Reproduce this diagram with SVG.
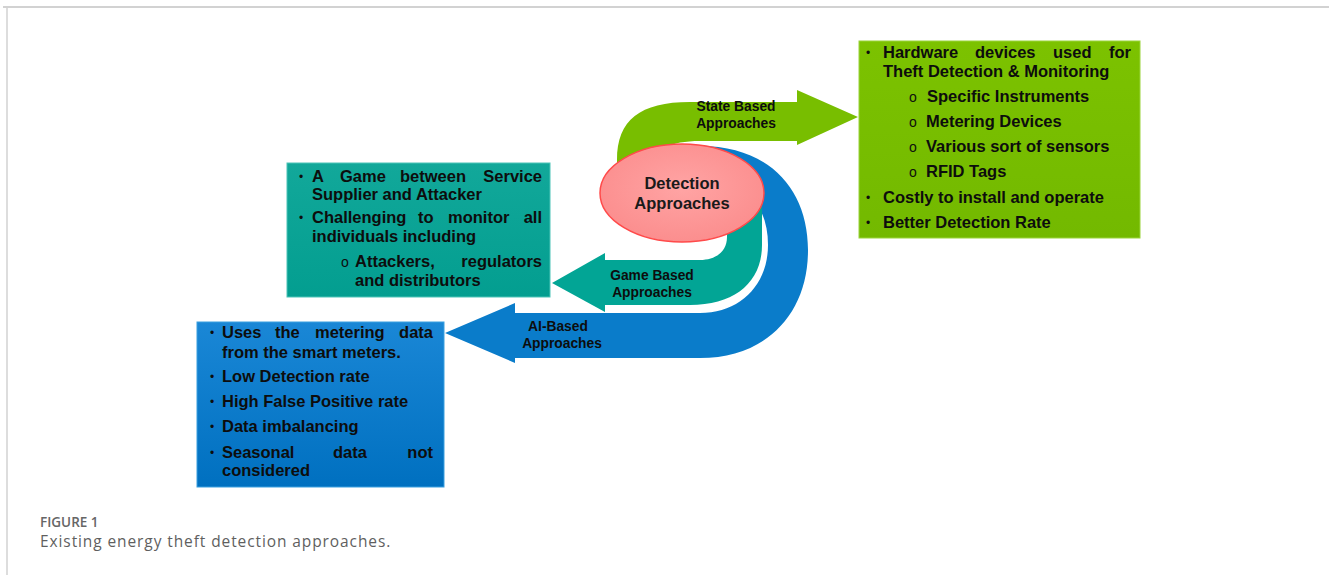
<svg xmlns="http://www.w3.org/2000/svg" width="1329" height="575" viewBox="0 0 1329 575">
  <style>
    .t { font-family: "Liberation Sans", Arial, sans-serif; font-weight: bold; font-size: 16.5px; fill: #0d0d0d; }
    .e { text-anchor: end; }
    .lbl { font-family: "Liberation Sans", Arial, sans-serif; font-weight: bold; font-size: 13.8px; fill: #0d0d0d; text-anchor: middle; }
    .ell { font-family: "Liberation Sans", Arial, sans-serif; font-weight: bold; font-size: 16.5px; fill: #1a1a1a; text-anchor: middle; }
    .b { font-family: "Liberation Sans", Arial, sans-serif; font-size: 12px; fill: #0d0d0d; }
    .o { font-family: "Liberation Sans", Arial, sans-serif; font-size: 14px; fill: #0d0d0d; }
    .frame { stroke: #d2d2d2; fill: none; }
  </style>
  <defs>
    <linearGradient id="gBlue" x1="0" y1="0" x2="0" y2="1">
      <stop offset="0" stop-color="#1a87d6"/>
      <stop offset="1" stop-color="#0070c0"/>
    </linearGradient>
    <linearGradient id="gTeal" x1="0" y1="0" x2="0" y2="1">
      <stop offset="0" stop-color="#12a89a"/>
      <stop offset="1" stop-color="#039e90"/>
    </linearGradient>
    <linearGradient id="gGreen" x1="0" y1="0" x2="0" y2="1">
      <stop offset="0" stop-color="#7cc200"/>
      <stop offset="1" stop-color="#73b900"/>
    </linearGradient>
    <radialGradient id="gEll" cx="0.5" cy="0.45" r="0.6">
      <stop offset="0" stop-color="#ffa4a4"/>
      <stop offset="1" stop-color="#fb8c8c"/>
    </radialGradient>
  </defs>

  <rect width="1329" height="575" fill="#ffffff"/>
  <line class="frame" x1="3" y1="7" x2="1329" y2="7" stroke-width="2"/>
  <line class="frame" x1="7" y1="7" x2="7" y2="575" stroke-width="1.5"/>

  <g id="connectors">
    <path id="ai-arrow" d="M 700 146 C 770 146 808 190 808 250 C 808 315 765 358 700 358 L 515 358 L 515 363 L 445 333 L 515 303 L 515 313 L 700 313 C 740 313 768 285 768 245 C 768 205 745 178 700 175 Z" fill="#0a7cca"/>
    <path id="game-arrow" d="M 727 200 L 727 237 C 727 252 715 260 700 260 L 605 260 L 605 253 L 552 283 L 605 312 L 605 305 L 690 305 C 735 305 762 282 762 245 L 762 195 Z" fill="#02a595"/>
    <path id="state-arrow" d="M 617 185 L 617 160 C 617 120 640 102 690 102 L 797 102 L 797 90 L 858 117 L 797 145 L 797 141 L 700 141 C 670 141 655 150 650 162 L 650 185 Z" fill="#78be00"/>
    <text class="lbl" x="736" y="111">State Based</text>
    <text class="lbl" x="736" y="128">Approaches</text>
    <text class="lbl" x="652" y="280">Game Based</text>
    <text class="lbl" x="652" y="297">Approaches</text>
    <text class="lbl" x="558" y="331">AI-Based</text>
    <text class="lbl" x="562" y="348">Approaches</text>
  </g>

  <g id="detection">
    <ellipse cx="682" cy="193" rx="82" ry="49" fill="url(#gEll)" stroke="#ff4a4a" stroke-width="1.5"/>
    <text class="ell" x="682" y="189">Detection</text>
    <text class="ell" x="682" y="209">Approaches</text>
  </g>

  <g id="state-box">
    <rect x="859" y="41" width="281" height="197" fill="url(#gGreen)" stroke="#9ad43a" stroke-width="1"/>
    <text class="b" x="866" y="57">•</text>
    <text class="t" x="883" y="58">Hardware</text>
    <text class="t" x="975" y="58">devices</text>
    <text class="t" x="1053" y="58">used</text>
    <text class="t e" x="1131" y="58">for</text>
    <text class="t" x="883" y="77">Theft Detection &amp; Monitoring</text>
    <text class="o" x="909" y="102">o</text>
    <text class="t" x="927" y="102">Specific Instruments</text>
    <text class="o" x="909" y="127">o</text>
    <text class="t" x="926" y="127">Metering Devices</text>
    <text class="o" x="909" y="152">o</text>
    <text class="t" x="926" y="152">Various sort of sensors</text>
    <text class="o" x="909" y="177">o</text>
    <text class="t" x="926" y="177">RFID Tags</text>
    <text class="b" x="866" y="202">•</text>
    <text class="t" x="883" y="203">Costly to install and operate</text>
    <text class="b" x="866" y="227">•</text>
    <text class="t" x="883" y="228">Better Detection Rate</text>
  </g>

  <g id="game-box">
    <rect x="287" y="163" width="263" height="134" fill="url(#gTeal)" stroke="#4cc4b8" stroke-width="1"/>
    <text class="b" x="299" y="181">•</text>
    <text class="t" x="312" y="182">A</text>
    <text class="t" x="340" y="182">Game</text>
    <text class="t" x="400" y="182">between</text>
    <text class="t e" x="542" y="182">Service</text>
    <text class="t" x="312" y="200">Supplier and Attacker</text>
    <text class="b" x="299" y="222">•</text>
    <text class="t" x="312" y="223">Challenging</text>
    <text class="t" x="418" y="223">to</text>
    <text class="t" x="448" y="223">monitor</text>
    <text class="t e" x="542" y="223">all</text>
    <text class="t" x="312" y="242">individuals including</text>
    <text class="o" x="341" y="267">o</text>
    <text class="t" x="355" y="267">Attackers,</text>
    <text class="t e" x="542" y="267">regulators</text>
    <text class="t" x="355" y="286">and distributors</text>
  </g>

  <g id="ai-box">
    <rect x="197" y="322" width="247" height="165" fill="url(#gBlue)" stroke="#3aa0e0" stroke-width="1"/>
    <text class="b" x="210" y="337">•</text>
    <text class="t" x="222" y="338">Uses</text>
    <text class="t" x="275" y="338">the</text>
    <text class="t" x="315" y="338">metering</text>
    <text class="t e" x="433" y="338">data</text>
    <text class="t" x="222" y="358">from the smart meters.</text>
    <text class="b" x="210" y="381">•</text>
    <text class="t" x="222" y="382">Low Detection rate</text>
    <text class="b" x="210" y="406">•</text>
    <text class="t" x="222" y="407">High False Positive rate</text>
    <text class="b" x="210" y="431">•</text>
    <text class="t" x="222" y="432">Data imbalancing</text>
    <text class="b" x="210" y="457">•</text>
    <text class="t" x="222" y="458">Seasonal</text>
    <text class="t" x="333" y="458">data</text>
    <text class="t e" x="433" y="458">not</text>
    <text class="t" x="222" y="476">considered</text>
  </g>

  <g id="caption">
    <text x="40" y="527" font-family="'Open Sans', 'Liberation Sans', sans-serif" font-weight="600" font-size="13.5" fill="#666666">FIGURE 1</text>
    <text x="40" y="547" font-family="'Open Sans', 'Liberation Sans', sans-serif" font-size="15.5" letter-spacing="0.9" fill="#5f5f5f">Existing energy theft detection approaches.</text>
  </g>
</svg>
